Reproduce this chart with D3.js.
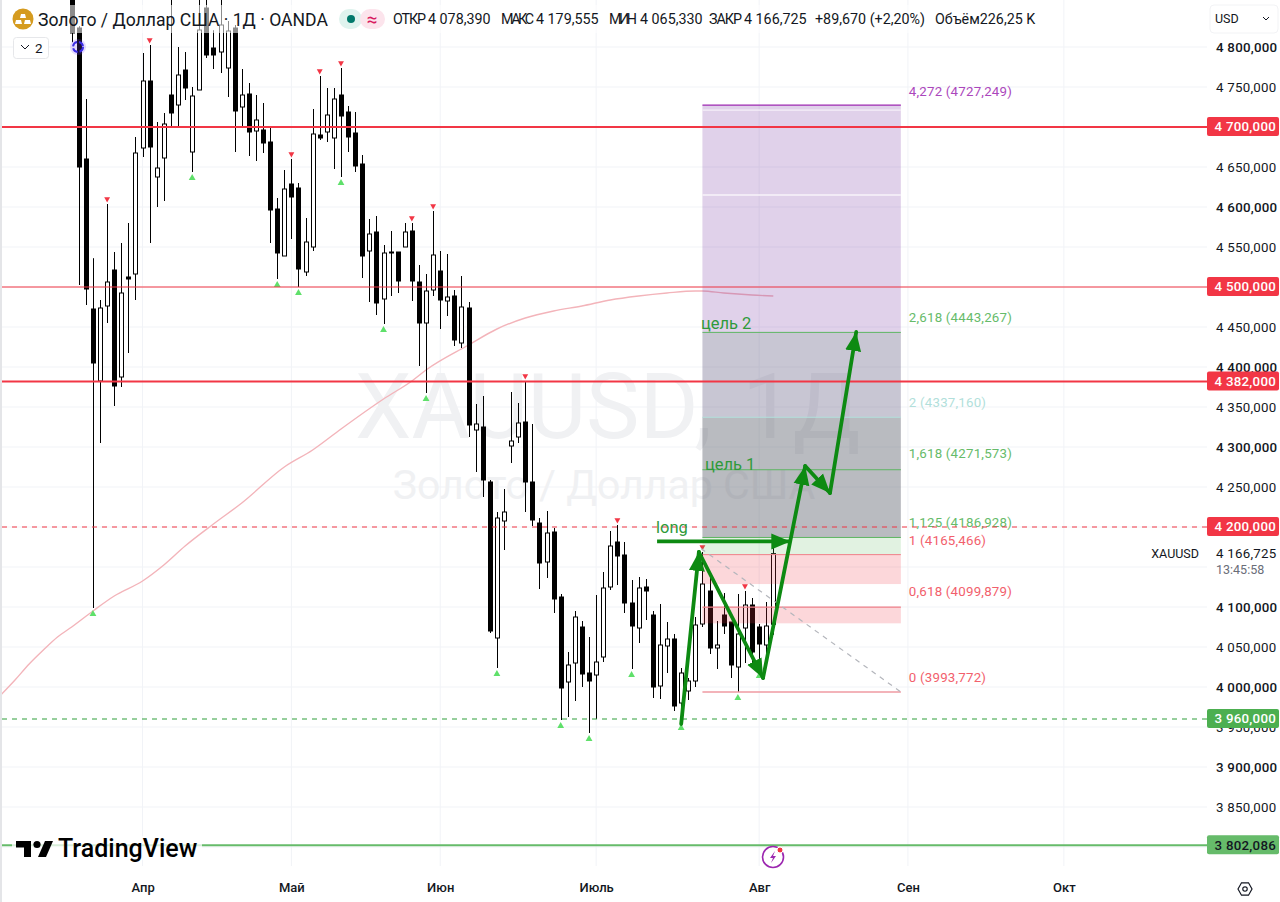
<!DOCTYPE html>
<html><head><meta charset="utf-8">
<script src="https://cdn.jsdelivr.net/npm/d3@7"></script>
<style>
html,body{margin:0;padding:0;background:#fff;overflow:hidden}
svg{display:block}
text{font-family:Roboto,"Noto Sans",sans-serif}
</style></head><body><svg id="c" width="1280" height="902"></svg>
<script>
const opens=[4871,4823.75,4660,4472.5,4382.5,4476.25,4521.25,4387.5,4512.5,4516.25,4673.75,4757.5,4637.5,4661.25,4740,4727.5,4771.25,4668.75,4746.25,4848.75,4798.75,4793.75,4773.75,4823.75,4725,4741.25,4695,4696.25,4681.25,4597.5,4538.75,4628.75,4623.75,4518.75,4550,4690,4693.75,4686.25,4740,4718.75,4692.5,4653.75,4545,4568.75,4485,4543.75,4543.75,4550,4570,4506.25,4455,4496.25,4520,4482.5,4488.75,4430,4473.75,4321.25,4325,4256.25,4061.25,4207.5,4301.25,4312.5,4331.25,4256.25,4205,4156.25,4193.75,4112.5,4006.25,4030,4075,4017.5,4015,4037.5,4125,4181.25,4165,4105,4073.75,4125,4090,4001.25,4051.25,4060,3980,3995,4007.5,4078.75,4120,4048.75,4090,4081.25,4025,4073.75,4102.5,4075,4052.5,4078.39];
const closes=[4817.5,4650,4497.5,4405,4473.75,4506.25,4376.25,4492.5,4510,4667.5,4757.5,4675,4648.75,4703.75,4717.5,4765,4748.75,4738.75,4821.25,4790,4790,4827.5,4820,4720,4740,4693.75,4708.75,4680,4596.25,4542.5,4622.5,4612.5,4522.5,4556.25,4691.25,4686.25,4715,4735,4713.75,4687.5,4651.25,4538.75,4566.25,4480,4542.5,4542.5,4507.5,4568.75,4507.5,4455,4495,4540,4483.75,4487.5,4433.75,4475,4327.5,4328.75,4258.75,4070,4211.25,4218.75,4307.5,4330,4256.25,4208.75,4155,4192.5,4110,3998.75,4027.5,4087.5,4016.25,4007.5,4031.25,4123.75,4176.25,4163.75,4105,4076.25,4123.75,4120,4000,4052.5,4060,3976.25,4017.5,4007.5,4077.5,4128.75,4048.75,4052.5,4076.25,4027.5,4066.25,4102.5,4043.75,4053.75,4076.25,4166.725];
const highs=[4884,4826,4735,4536,4483.75,4603.75,4543.75,4555,4580,4687.5,4792.5,4802.5,4706.25,4717.5,4871,4800,4793.75,4750,4871,4871,4821,4871,4832.5,4827.5,4772.5,4755,4740,4730,4700,4611.25,4646.25,4660,4630,4586.25,4722.5,4763.75,4748.75,4748.75,4773.75,4726.25,4718.75,4665,4585,4588.75,4552.5,4570,4543.75,4580,4580,4527.5,4516.25,4595,4545,4541.25,4496.25,4513.75,4481.25,4353.75,4363.75,4258.75,4218.75,4247.5,4368.75,4355,4382.5,4328.75,4211.25,4220,4198.75,4116.25,4043.75,4095,4082.5,4062.5,4115,4143.75,4195,4202.5,4181.25,4133.75,4137.5,4135,4095,4103.75,4081.25,4066.25,4023.75,4011.25,4087.5,4168.75,4137.5,4082.5,4117.5,4081.25,4116.25,4120,4111.25,4078.75,4106.25,4179.555];
const lows=[4806,4502.5,4477.5,4098.75,4305,4455,4351.25,4375,4417.5,4483.75,4662.5,4555,4600,4607.5,4700,4700,4733.75,4643.75,4746.25,4786.25,4772.5,4767.5,4737.5,4668.75,4700,4663.75,4657.5,4667.5,4555,4510,4538.75,4560,4500,4513.75,4545,4683.75,4681.25,4647.5,4637.5,4668.75,4643.75,4511.25,4481.25,4465,4453.75,4488.75,4492.5,4550,4482.5,4401.25,4367.5,4488.75,4447.5,4463.75,4426.25,4423.75,4312.5,4268.75,4237.5,4067.5,4023.75,4171.25,4280,4305,4218.75,4201.25,4122.5,4136.25,4092.5,3958.75,3962.5,3982.5,4000,3942.5,3960,4031.25,4121.25,4127.5,4092.5,4022.5,4055,4083.75,3986.25,3985,4017.5,3970,3956.25,3983.75,4000,4075,4041.25,4022.5,4066.25,4011.25,3993.75,4030,4028.75,4021.25,4042.5,4065.33];
const pivotHighBars=[5,11,31,35,38,48,51,64,77,89,95];
const pivotLowBars=[3,17,29,32,38,44,50,60,69,73,79,86,94,97];
const smaBars=[-10,-8,-6,-4,-2,0,3,6,10,13,16,20,24,30,34,38,44,48,50,56,60,64,68,72,76,80,84,88,89,92,96,99];
const smaValues=[3990,4008.75,4028.75,4046.25,4062.5,4075,4095,4113.75,4132.5,4152.5,4176.25,4203.75,4230,4275,4296.25,4322.5,4360,4382.5,4396.25,4427.5,4447.5,4461.25,4470,4476.25,4483.75,4488.75,4492.5,4495,4495,4492.5,4490,4488.75];
const gridPrices=[4800,4750,4700,4650,4600,4550,4500,4450,4400,4350,4300,4250,4200,4150,4100,4050,4000,3950,3900,3850,3800];
const priceTicks=[4800,4750,4650,4600,4550,4450,4400,4350,4300,4250,4100,4050,4000,3950,3900,3850];
const monthLabels=["Апр","Май","Июн","Июль","Авг","Сен","Окт"];
const monthBars=[10,31,52,74,97,118,140];
const levelPrices=[4700,4500,4382,4200,3960,3802.086];
const fibRatios=[4.272,4.236,3.618,2.618,2,1.618,1.125,1,0.786,0.618,0.5,0];
const fibPrices=[4727.249,4721.05,4614.97,4443.267,4337.16,4271.573,4186.928,4165.466,4128.7,4099.879,4079.6,3993.772];
const fibBars=[89,117];
const fibDiagBars=[88.8,117];
const fibDiagPrices=[4173,3993.772];
const waveBars=[86,88.5,97.55,103.5,107,110.7];
const wavePrices=[3953.75,4168.75,4011.25,4276.25,4242.5,4443.75];
const longBars=[82.6,101.4];
const longPrice=4182;
const legendTitle="Золото / Доллар США · 1Д · OANDA";
const ohlcNames=["ОТКР","МАКС","МИН","ЗАКР"];
const ohlcValues=[4078.39,4179.555,4065.33,4166.725];

const W=1280,H=902,paneR=1207,paneB=866;
const svg=d3.select("#c");
const x=d3.scaleLinear().domain([0,99]).range([71.7,773.3]);
const y=d3.scaleLinear().domain([4800,3800]).range([47,847]);
const loc=d3.formatLocale({decimal:",",thousands:" ",grouping:[3],currency:["",""]});
const fmt=loc.format(",.3f");
const fmtPlain=d3.format(".3f");
const ink="#131722";

const defs=svg.append("defs");
defs.append("clipPath").attr("id","pane").append("rect").attr("x",2).attr("y",0).attr("width",paneR-2).attr("height",paneB);
const mk=defs.append("marker").attr("id","ah").attr("markerUnits","userSpaceOnUse").attr("markerWidth",20).attr("markerHeight",18)
 .attr("refX",19).attr("refY",9).attr("orient","auto");
mk.append("path").attr("d","M0,1 L19,9 L0,17 Z").attr("fill","#0d8a12");

svg.append("rect").attr("width",W).attr("height",H).attr("fill","#fff");
svg.append("rect").attr("width",2).attr("height",H).attr("fill","#e4e5e8");

const pane=svg.append("g").attr("clip-path","url(#pane)");
// grid
pane.append("g").selectAll("line").data(gridPrices).join("line")
 .attr("x1",0).attr("x2",paneR).attr("y1",d=>y(d)).attr("y2",d=>y(d)).attr("stroke","#f1f3f7");
pane.append("g").selectAll("line").data(monthBars).join("line")
 .attr("x1",d=>x(d)).attr("x2",d=>x(d)).attr("y1",0).attr("y2",paneB).attr("stroke","#f1f3f7");
// watermark
const wm=pane.append("g").attr("fill","#f0f1f3");
wm.append("text").attr("x",355).attr("y",438).attr("font-size",90).attr("word-spacing",8).text("XAUUSD, 1Д");
wm.append("text").attr("x",604).attr("y",499).attr("text-anchor","middle").attr("font-size",41).text("Золото / Доллар США");

// SMA
pane.append("path").datum(d3.zip(smaBars,smaValues))
 .attr("d",d3.line().x(d=>x(d[0])).y(d=>y(d[1])).curve(d3.curveMonotoneX))
 .attr("fill","none").attr("stroke","#f3b4ba").attr("stroke-width",1.4);

// candles
const idx=d3.range(opens.length);
const bars=pane.append("g");
bars.selectAll("line").data(idx).join("line")
 .attr("x1",i=>Math.round(x(i))+.5).attr("x2",i=>Math.round(x(i))+.5)
 .attr("y1",i=>y(highs[i])).attr("y2",i=>y(lows[i])).attr("stroke","#000").attr("stroke-width",1);
bars.selectAll("rect").data(idx).join("rect")
 .attr("x",i=>Math.round(x(i))-1.5).attr("width",4)
 .attr("y",i=>y(Math.max(opens[i],closes[i]))).attr("height",i=>Math.max(1,Math.abs(y(opens[i])-y(closes[i]))))
 .attr("fill",i=>closes[i]>=opens[i]?"#fff":"#000").attr("stroke","#000").attr("stroke-width",1);

// pivot markers
const triHi=d3.symbol().type(d3.symbolTriangle).size(15);
const triLo=d3.symbol().type(d3.symbolTriangle).size(20);
pane.append("g").selectAll("path").data(pivotHighBars).join("path")
 .attr("d",triHi).attr("fill","#f23645")
 .attr("transform",i=>`translate(${x(i)},${y(highs[i])-5}) rotate(180)`);
pane.append("g").selectAll("path").data(pivotLowBars).join("path")
 .attr("d",triLo).attr("fill","#5fe06a")
 .attr("transform",i=>`translate(${x(i)},${y(lows[i])+6})`);

// fib zones
const fibP=r=>fibPrices[fibRatios.indexOf(r)];
const zones=[[4.272,2.618,"#7e3fa8",.24],[2.618,2,"#6e698c",.38],[2,1.125,"#646973",.45],[1.125,1,"#4caf50",.17],[1,.786,"#f23645",.2],[.618,.5,"#f23645",.2]];
const fx0=x(fibBars[0]),fx1=x(fibBars[1]);
pane.append("g").selectAll("rect").data(zones).join("rect")
 .attr("x",fx0).attr("width",fx1-fx0).attr("y",d=>y(fibP(d[0]))).attr("height",d=>y(fibP(d[1]))-y(fibP(d[0])))
 .attr("fill",d=>d[2]).attr("fill-opacity",d=>d[3]);
const fibLook=[[4.272,"#9c27b0",1.2],[4.236,"#f6eff8",1.4],[3.618,"#f8f3fa",1.4],[2.618,"#5db562",1],[2,"#b2dfdb",1],[1.618,"#5db562",1],[1.125,"#5db562",1],[1,"#ef7f88",1],[.618,"#ef7f88",1.2],[0,"#ef9aa2",1.4]];
pane.append("g").selectAll("line").data(fibLook).join("line")
 .attr("x1",fx0).attr("x2",fx1).attr("y1",d=>y(fibP(d[0]))).attr("y2",d=>y(fibP(d[0])))
 .attr("stroke",d=>d[1]).attr("stroke-width",d=>d[2]);
pane.append("line").attr("x1",x(fibDiagBars[0])).attr("x2",x(fibDiagBars[1]))
 .attr("y1",y(fibDiagPrices[0])).attr("y2",y(fibDiagPrices[1]))
 .attr("stroke","#b4b6bc").attr("stroke-width",1.2).attr("stroke-dasharray","5 5");

// fib labels
const fibLabels=[[4.272,"#ab47bc",-14],[2.618,"#66bb6a",-15],[2,"#b2dfdb",-15],[1.618,"#66bb6a",-16],[1.125,"#66bb6a",-15],[1,"#f2606c",-14],[.618,"#f2606c",-16],[0,"#f2606c",-15]];
pane.append("g").selectAll("text").data(fibLabels).join("text")
 .attr("x",fx1+8).attr("y",d=>y(fibP(d[0]))+d[2]).attr("dy","0.35em").attr("font-size",13.3).attr("fill",d=>d[1])
 .attr("letter-spacing",.2)
 .text(d=>`${String(d[0]).replace(".",",")} (${fmtPlain(fibP(d[0])).replace(".",",")})`);

// horizontal levels
const lvLook=[["#f23645",2,null],["#f23645",1,null],["#f23645",2,null],["#f23645",1,"5 5"],["#2e9e3a",1,"5 5"],["#66bb6a",2,null]];
pane.append("g").selectAll("line").data(levelPrices).join("line")
 .attr("x1",2).attr("x2",paneR).attr("y1",d=>y(d)).attr("y2",d=>y(d))
 .attr("stroke",(d,i)=>lvLook[i][0]).attr("stroke-width",(d,i)=>lvLook[i][1]).attr("stroke-dasharray",(d,i)=>lvLook[i][2]);

// annotations: waves and long arrow
const waves=d3.pairs(d3.zip(waveBars,wavePrices));
const pw=pane.append("g");
pw.selectAll("line").data(waves).join("line")
 .attr("x1",d=>x(d[0][0])).attr("y1",d=>y(d[0][1])).attr("x2",d=>x(d[1][0])).attr("y2",d=>y(d[1][1]))
 .attr("stroke","#0d8a12").attr("stroke-width",3.8).attr("stroke-linecap","round").attr("marker-end","url(#ah)");
pw.append("line").attr("x1",x(longBars[0])).attr("x2",x(longBars[1])).attr("y1",y(longPrice)).attr("y2",y(longPrice))
 .attr("stroke","#0d8a12").attr("stroke-width",3.8).attr("marker-end","url(#ah)");
const note=pane.append("g").attr("fill","#2f9a3a").attr("font-size",16.5);
note.append("text").attr("x",656).attr("y",533).text("long");
note.append("text").attr("x",705).attr("y",470).text("цель 1");
note.append("text").attr("x",701).attr("y",329).text("цель 2");

// lightning icon
const bolt=svg.append("g").attr("transform","translate(773,857)");
bolt.append("circle").attr("r",10.5).attr("fill","#fff").attr("stroke","#9c27b0").attr("stroke-width",1.6);
bolt.append("path").attr("d","M2,-6 L-3,1 L0,1 L-2,6 L3,-1 L0,-1 Z").attr("fill","#9c27b0");
bolt.append("circle").attr("cx",7).attr("cy",-7).attr("r",3).attr("fill","#f23645").attr("stroke","#fff");

// TradingView logo
const tv=svg.append("g");
tv.append("rect").attr("x",12).attr("y",836).attr("width",190).attr("height",24).attr("fill","#fff").attr("fill-opacity",.75);
tv.append("path").attr("d","M16,841 H31 V857 H24 V847.5 H16 Z M45,841 H53 L46,857 H38 Z").attr("fill","#000");
tv.append("circle").attr("cx",37).attr("cy",844.5).attr("r",3.6).attr("fill","#000");
tv.append("text").attr("x",58).attr("y",857).attr("font-size",25).attr("font-weight",500).attr("fill","#000").text("TradingView");

// price axis
const ax=svg.append("g").attr("transform",`translate(1216,0)`)
 .call(d3.axisRight(y).tickValues(priceTicks).tickSize(0).tickPadding(0).tickFormat(fmt));
ax.select(".domain").remove();
ax.selectAll("text").attr("font-size",13.3).attr("fill",ink).attr("font-weight",d=>d%100===0?500:400).attr("letter-spacing",.25);

// level tags
const tagLook=[["#f23645","#fff"],["#f23645","#fff"],["#f23645","#fff"],["#f23645","#fff"],["#4caf50","#fff"],["#66bb6a","#131722"]];
const tag=svg.append("g").selectAll("g").data(levelPrices).join("g").attr("transform",d=>`translate(1207,${y(d)})`);
tag.append("rect").attr("y",-10).attr("width",72).attr("height",19).attr("rx",2).attr("fill",(d,i)=>tagLook[i][0]);
tag.append("text").attr("x",69).attr("y",0).attr("dy","0.33em").attr("text-anchor","end").attr("font-size",13.3)
 .attr("fill",(d,i)=>tagLook[i][1]).attr("font-weight",500).attr("letter-spacing",.25).text(d=>fmt(d));

// last price
const lp=svg.append("g");
lp.append("text").attr("x",1216).attr("y",y(closes[99])).attr("dy","0.35em").attr("font-size",13.3).attr("fill",ink).attr("letter-spacing",.25).text(fmt(closes[99]));
lp.append("text").attr("x",1216).attr("y",570).attr("dy","0.35em").attr("font-size",12.5).attr("fill","#6a6d78").text("13:45:58");
lp.append("text").attr("x",1199).attr("y",y(closes[99])).attr("dy","0.35em").attr("text-anchor","end").attr("font-size",12.5).attr("fill",ink).text("XAUUSD");

// time axis
const tx=svg.append("g").attr("transform","translate(0,888)")
 .call(d3.axisBottom(x).tickValues(monthBars).tickSize(0).tickPadding(0).tickFormat((d,i)=>monthLabels[i]));
tx.select(".domain").remove();
tx.selectAll("text").attr("font-size",13).attr("fill",ink).attr("font-weight",500).attr("dy","0.33em").attr("y",0);

// settings icon
const gear=svg.append("g").attr("transform","translate(1245,889)").attr("fill","none").attr("stroke","#131722").attr("stroke-width",1.2);
gear.append("path").attr("d","M-7,0 L-3.5,-6.2 H3.5 L7,0 L3.5,6.2 H-3.5 Z");
gear.append("circle").attr("r",2.2);

// legend veil
svg.append("rect").attr("x",8).attr("y",5).attr("width",1030).attr("height",28).attr("rx",4).attr("fill","#fff").attr("fill-opacity",.55);
svg.append("rect").attr("x",1210).attr("y",5).attr("width",68).attr("height",28).attr("rx",4).attr("fill","#fff").attr("stroke","#f2f3f5");
svg.append("text").attr("x",1215).attr("y",19).attr("dy","0.35em").attr("font-size",12.5).attr("fill",ink).text("USD");
svg.append("path").attr("d","M1263,17 l3,3 l3,-3").attr("fill","none").attr("stroke",ink);

// legend logo
const lg=svg.append("g").attr("transform","translate(23,19)");
lg.append("circle").attr("r",10.5).attr("fill","#d59b1f");
lg.append("path").attr("d","M-2,-5 H2 L3,-1 H-3 Z M-7,1 H-2 L-1,5 H-8 Z M2,1 H7 L8,5 H1 Z").attr("fill","#fff");
svg.append("text").attr("x",38).attr("y",20).attr("dy","0.35em").attr("font-size",17.6).attr("fill",ink).text(legendTitle);

// status pills
svg.append("rect").attr("x",339).attr("y",9).attr("width",23).attr("height",20).attr("rx",10).attr("fill","#dff3ee");
svg.append("rect").attr("x",360).attr("y",9).attr("width",25).attr("height",20).attr("rx",10).attr("fill","#fce4ec");
svg.append("circle").attr("cx",351).attr("cy",19).attr("r",4).attr("fill","#00796b");
svg.append("text").attr("x",372).attr("y",19).attr("dy","0.35em").attr("text-anchor","middle").attr("font-size",19).attr("fill","#d81b60").text("≈");

// OHLC
const lx=[393,501,609,709], vx=[428,536,640,744];
const leg=svg.append("g").attr("font-size",14.3).attr("fill",ink);
ohlcNames.forEach((n,i)=>{
 leg.append("text").attr("x",lx[i]).attr("y",19).attr("dy","0.35em").attr("textLength",n.length>3?33:28).text(n);
 leg.append("text").attr("x",vx[i]).attr("y",19).attr("dy","0.35em").text(fmt(ohlcValues[i]));
});
leg.append("text").attr("x",815).attr("y",19).attr("dy","0.35em").text("+89,670 (+2,20%)");
leg.append("text").attr("x",935).attr("y",19).attr("dy","0.35em").text("Объём226,25 K");

// collapse button
svg.append("rect").attr("x",13.5).attr("y",37.5).attr("width",35).attr("height",21).attr("rx",3).attr("fill","#fff").attr("stroke","#e6e7ea");
svg.append("path").attr("d","M21,45 l4,4 l4,-4").attr("fill","none").attr("stroke",ink);
svg.append("text").attr("x",35).attr("y",48).attr("dy","0.35em").attr("font-size",13.5).attr("fill",ink).text("2");

// sync icon
const sy=svg.append("g").attr("transform","translate(78,47)");
sy.append("circle").attr("r",8).attr("fill","#7c4dff").attr("fill-opacity",.2);
sy.append("circle").attr("r",5).attr("fill","none").attr("stroke","#3d2ee6").attr("stroke-width",2).attr("stroke-dasharray","6 2");
</script></body></html>
